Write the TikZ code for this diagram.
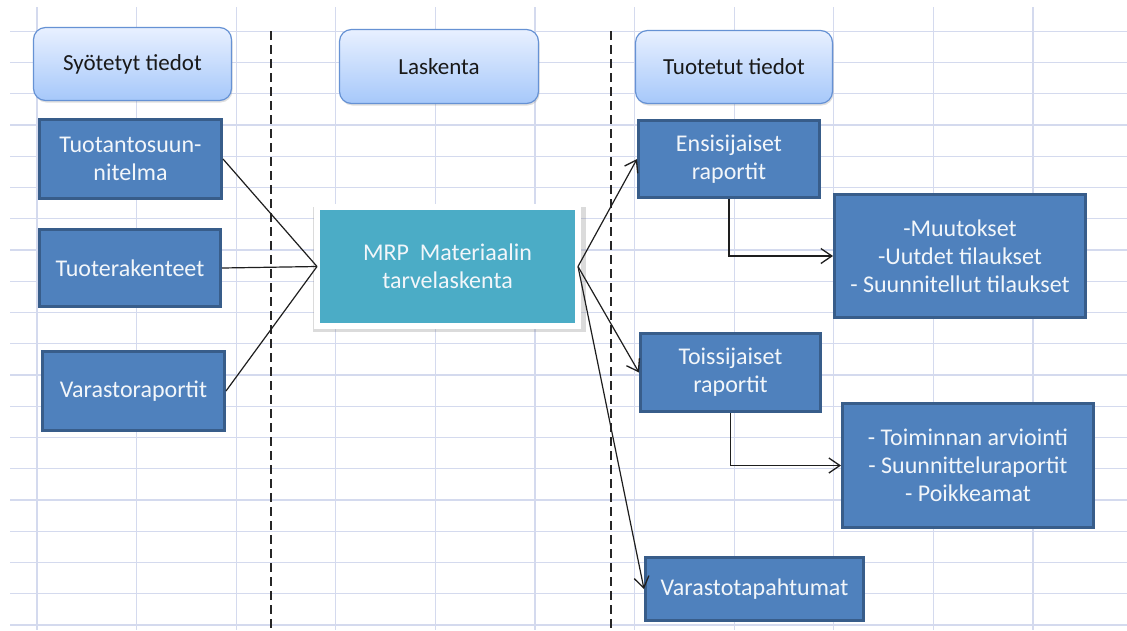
\documentclass[tikz,border=0pt]{standalone}
\usepackage{fontspec}
\setmainfont{Carlito}
\usetikzlibrary{arrows.meta,shadows}

\definecolor{gridline}{RGB}{212,218,238}
\definecolor{boxfill}{RGB}{79,129,189}
\definecolor{boxedge}{RGB}{56,93,138}
\definecolor{mrpfill}{RGB}{75,172,198}
\definecolor{headtop}{RGB}{232,240,255}
\definecolor{headbot}{RGB}{166,200,250}
\definecolor{headedge}{RGB}{102,146,212}
\definecolor{boxtext}{RGB}{242,246,250}
\definecolor{linkcol}{RGB}{30,30,30}

\tikzset{
  header/.style={draw=headedge, line width=1.2pt, rounded corners=12pt,
    top color=headtop, bottom color=headbot,
    drop shadow={shadow xshift=1pt, shadow yshift=-2pt, opacity=0.25},
    text=black!90, font=\fontsize{23}{28}\selectfont, align=center, inner sep=0pt},
  bluebox/.style={draw=boxedge, fill=boxfill, line width=3pt,
    text=boxtext, font=\fontsize{24}{28}\selectfont, align=center, inner sep=0pt},
  mrpbox/.style={draw=white, fill=mrpfill, line width=6pt, outer sep=0pt,
    drop shadow={shadow xshift=2pt, shadow yshift=-3pt, shadow scale=1.045, opacity=0.28},
    text=boxtext, font=\fontsize{24}{28}\selectfont, align=center, inner sep=0pt},
  link/.style={draw=linkcol, line width=1.2pt},
  flow/.style={link, -{Straight Barb[length=11pt,width=15pt,line width=1.3pt]}},
  divider/.style={draw=black!85, line width=1.3pt, dash pattern=on 9pt off 5pt}
}

\begin{document}
\begin{tikzpicture}[x=1pt,y=-1pt]
\useasboundingbox (0,0) rectangle (1127,630);
\fill[white] (0,0) rectangle (1127,630);

% worksheet grid
\foreach \k in {1,...,20}
  \draw[gridline, line width=1.1pt] (10,31.25*\k) -- (1127,31.25*\k);
\foreach \k in {0,...,10}
  \draw[gridline, line width=1.1pt] (37+99.6*\k,7) -- (37+99.6*\k,630);

% column dividers
\draw[divider] (271,31) -- (271,630);
\draw[divider] (611,31) -- (611,630);

% column headings
\node[header, minimum width=198pt, minimum height=73pt] (syo) at (132.5,64) {Syötetyt tiedot};
\node[header, minimum width=199pt, minimum height=74pt] (lask) at (439,66.5) {Laskenta};
\node[header, minimum width=197pt, minimum height=73pt] (tuot) at (734,67) {Tuotetut tiedot};

% inputs
\node[bluebox, minimum width=182pt, minimum height=79pt] (tp) at (130.5,159) {Tuotantosuun-\\nitelma};
\node[bluebox, minimum width=181pt, minimum height=77pt] (tr) at (130,268) {Tuoterakenteet};
\node[bluebox, minimum width=182pt, minimum height=79pt] (vr) at (133.5,391) {Varastoraportit};

% calculation
\node[mrpbox, minimum width=261pt, minimum height=119pt] (mrp) at (447.5,266.5) {MRP\ \ Materiaalin\\tarvelaskenta};

% outputs
\node[bluebox, minimum width=181pt, minimum height=77pt] (ens) at (729,159) {Ensisijaiset\\raportit};
\node[bluebox, minimum width=251pt, minimum height=123pt] (muut) at (960,256) {-Muutokset\\-Uutdet tilaukset\\- Suunnitellut tilaukset};
\node[bluebox, minimum width=180pt, minimum height=78pt] (tois) at (730.5,372.5) {Toissijaiset\\raportit};
\node[bluebox, minimum width=251pt, minimum height=124pt] (toim) at (968,465.5) {- Toiminnan arviointi\\- Suunnitteluraportit\\- Poikkeamat};
\node[bluebox, minimum width=218pt, minimum height=63pt] (vt) at (754.5,589) {Varastotapahtumat};

% inputs into the calculation
\draw[link] (tp.east) -- (mrp.west);
\draw[link] (tr.east) -- (mrp.west);
\draw[link] (vr.east) -- (mrp.west);

% calculation results
\draw[flow] (mrp.east) -- (ens.west);
\draw[flow] (mrp.east) -- (tois.west);
\draw[flow] (mrp.east) -- (vt.west);
\draw[flow] (ens.south) |- (muut.west);
\draw[flow] (tois.south) |- (toim.west);
\end{tikzpicture}
\end{document}
